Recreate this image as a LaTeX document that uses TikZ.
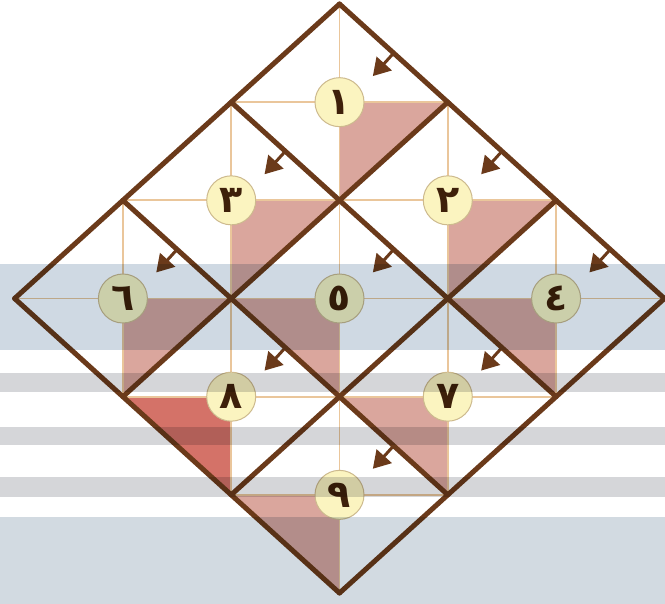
\documentclass[tikz,border=0pt]{standalone}
\usepackage{fontspec}
\newfontfamily\arabicfont[Script=Arabic]{DejaVu Sans}
\usetikzlibrary{arrows.meta}
\definecolor{brownline}{RGB}{107,58,26}
\definecolor{tanline}{RGB}{234,198,155}
\definecolor{pinkfill}{RGB}{218,166,157}
\definecolor{redfill}{RGB}{212,114,104}
\definecolor{circfill}{RGB}{251,244,192}
\definecolor{circedge}{RGB}{205,186,142}
\definecolor{digitcol}{RGB}{62,32,10}
\definecolor{blueband}{RGB}{207,217,227}
\definecolor{greyband}{RGB}{213,214,217}
\definecolor{bottomband}{RGB}{210,218,225}
\begin{document}
\begin{tikzpicture}[x=1pt,y=-1pt,
  thickgrid/.style={draw=brownline,line width=5pt,line cap=round},
  thingrid/.style={draw=tanline,line width=1.8pt},
  numcircle/.style={circle,draw=circedge,line width=1pt,fill=circfill,minimum size=49pt,inner sep=0pt,text=digitcol,font=\arabicfont\bfseries\fontsize{38}{38}\selectfont},
  flowarrow/.style={draw=brownline,fill=brownline,line width=3pt,-{Triangle[length=17pt,width=20pt]}},
  shade/.style={fill=pinkfill},
  redshade/.style={fill=redfill},
]
\useasboundingbox (0,0) rectangle (665,604);
\fill[white] (0,0) rectangle (665,604);
% grid points
\foreach \a in {0,...,3}{\foreach \b in {0,...,3}{
  \coordinate (p\a\b) at ({339.5+108.3*(\b-\a)},{4+98.17*(\a+\b)});}}
% cell centers and arrow points
\foreach \a in {0,...,2}{\foreach \b in {0,...,2}{
  \coordinate (m\a\b) at ({339.5+108.3*(\b-\a)},{4+98.17*(\a+\b+1)});
  \coordinate (e\a\b) at ({339.5+108.3*(\b-\a)+54.15},{4+98.17*(\a+\b)+49.08});
  \coordinate (t\a\b) at ({339.5+108.3*(\b-\a)+54.15-20.8},{4+98.17*(\a+\b)+49.08+23});}}
% shaded quadrants
\path[shade] (m00) -- (p01) -- (p11) -- cycle;
\path[shade] (m01) -- (p02) -- (p12) -- cycle;
\path[shade] (m10) -- (p11) -- (p21) -- cycle;
\path[shade] (m20) -- (p21) -- (p31) -- cycle;
\path[shade] (m02) -- (p12) -- (p13) -- cycle;
\path[shade] (m11) -- (p21) -- (p22) -- cycle;
\path[shade] (m12) -- (p22) -- (p23) -- cycle;
\path[redshade] (m21) -- (p31) -- (p32) -- cycle;
\path[shade] (m22) -- (p32) -- (p33) -- cycle;
% thin cross lines in each cell
\foreach \a/\b/\c/\d in {0/0/1/1,0/1/1/2,0/2/1/3,1/0/2/1,1/1/2/2,1/2/2/3,2/0/3/1,2/1/3/2,2/2/3/3}{
  \draw[thingrid] (p\c\b) -- (p\a\d);
  \draw[thingrid] (p\a\b) -- (p\c\d);}
% thick grid
\foreach \k in {0,...,3}{
  \draw[thickgrid] (p\k0) -- (p\k3);
  \draw[thickgrid] (p0\k) -- (p3\k);}
% arrows
\foreach \a in {0,...,2}{\foreach \b in {0,...,2}{
  \draw[flowarrow] (e\a\b) -- (t\a\b);}}
% numbered circles
\node[numcircle] (c1) at (m00) {١};
\node[numcircle] (c2) at (m01) {٢};
\node[numcircle] (c3) at (m10) {٣};
\node[numcircle] (c4) at (m02) {٤};
\node[numcircle] (c5) at (m11) {٥};
\node[numcircle] (c6) at (m20) {٦};
\node[numcircle] (c7) at (m12) {٧};
\node[numcircle] (c8) at (m21) {٨};
\node[numcircle] (c9) at (m22) {٩};
% translucent horizontal bands
\begin{scope}[blend mode=multiply]
\fill[blueband] (0,264) rectangle (665,350);
\fill[greyband] (0,373) rectangle (665,392);
\fill[greyband] (0,427) rectangle (665,445);
\fill[greyband] (0,477) rectangle (665,497);
\fill[bottomband] (0,517) rectangle (665,604);
\end{scope}
\end{tikzpicture}
\end{document}
